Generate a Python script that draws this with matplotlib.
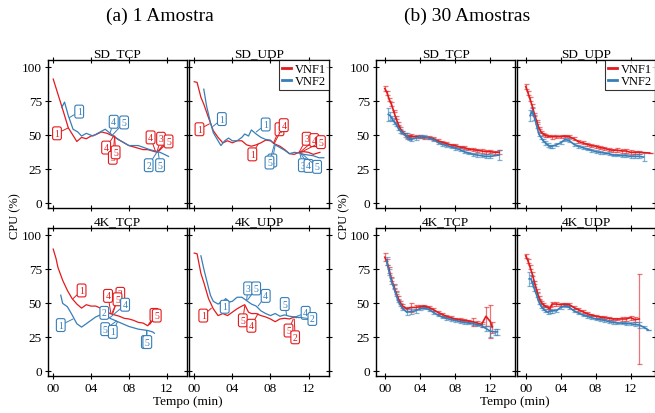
import matplotlib
matplotlib.use("Agg")
import matplotlib.pyplot as plt
from matplotlib.lines import Line2D

plt.rcParams["font.family"] = "serif"
plt.rcParams["font.serif"] = ["Liberation Serif", "DejaVu Serif"]

RED = "#e41a1c"
BLUE = "#377eb8"

panels = ["SD_TCP", "SD_UDP", "4K_TCP", "4K_UDP"]
series_names = ["VNF1", "VNF2"]
xticks = [0, 4, 8, 12]
xticklabels = ["00", "04", "08", "12"]
yticks = [0, 25, 50, 75, 100]

# ---- (a) 1 Amostra : single run, time (min) and CPU (%) ----
a_sd_tcp_t1 = [0, 0.9, 1.6, 2.5, 3, 3.5, 4, 4.5, 5.1, 5.7, 6.3, 7, 8, 9, 9.5, 10, 11, 11.7]
a_sd_tcp_y1 = [91, 71, 55, 45, 48, 47, 49, 50, 52, 51, 49, 46, 42, 40, 39, 39, 37, 43]
a_sd_tcp_t2 = [0.9, 1.2, 1.6, 2.1, 2.6, 3, 3.5, 4.2, 4.7, 5.5, 6.2, 7, 8, 9, 10.2, 11.3, 12.2]
a_sd_tcp_y2 = [70, 74, 64, 54, 52, 49, 51, 49, 51, 54, 50, 46, 42, 42, 39, 37, 34]

a_sd_udp_t1 = [0, 0.3, 0.7, 1, 1.5, 2, 2.5, 3, 3.5, 4, 4.5, 5, 5.5, 6, 6.5, 7, 7.5, 8,
               8.5, 9, 9.5, 10, 10.5, 11, 11.5, 12, 12.5, 13.2]
a_sd_udp_y1 = [89, 88.5, 77.5, 72.5, 62.5, 53, 48, 44, 45.5, 44, 45.5, 45.5, 42.5, 41.5, 42.5, 44,
               46, 45.5, 43, 41.5, 39, 36, 35.5, 37, 37.5, 37, 35.5, 37]
a_sd_udp_t2 = [1, 1.3, 1.7, 2, 2.5, 2.8, 3.2, 3.6, 4, 4.5, 5, 5.3, 5.7, 6, 6.5, 7, 7.5, 8,
               8.5, 9, 9.5, 10, 10.5, 11, 11.5, 12, 12.5, 13.1, 13.6]
a_sd_udp_y2 = [83.5, 71, 59, 51.5, 45.5, 42, 45.5, 47.5, 45.5, 45.5, 48, 50.5, 49, 53.5, 50.5, 48,
               46.5, 46, 42.5, 40.5, 38.5, 36, 37, 36.5, 35.5, 35, 34.5, 33, 33]

a_4k_tcp_t1 = [0, 0.3, 0.5, 1, 1.5, 2, 2.5, 3, 3.5, 4, 4.5, 5, 5.5, 6, 6.5, 7, 7.5, 8, 8.5,
               9, 9.5, 10, 10.3]
a_4k_tcp_y1 = [89.5, 82.5, 76, 66.5, 59, 53, 49, 46, 48.5, 47.5, 47.5, 46, 44, 42, 41, 40, 38.5,
               38, 37, 35.5, 35, 33, 35.5]
a_4k_tcp_t2 = [0.8, 1, 1.5, 2, 2.5, 3, 3.5, 4, 4.5, 5, 5.3, 5.7, 6, 6.5, 7, 7.5, 8, 8.5, 9,
               9.5, 10, 10.5, 10.7]
a_4k_tcp_y2 = [55.5, 49.5, 47, 41, 34.5, 32, 34.5, 37, 39.5, 41, 43.5, 40.5, 38.5, 37, 35.5, 34,
               32.5, 31.5, 30.5, 30, 29.5, 28.5, 27.5]

a_4k_udp_t1 = [0, 0.3, 0.7, 1, 1.5, 2, 2.5, 3, 3.5, 4, 4.5, 5, 5.3, 5.7, 6, 6.5, 7, 7.5, 8,
               8.5, 9, 9.5, 10, 10.5, 10.7]
a_4k_udp_y1 = [86.5, 86, 71.5, 65, 53, 45.5, 40.5, 42, 40.5, 43, 45.5, 47.5, 48.5, 43, 42, 42,
               40.5, 39.5, 38, 36, 38, 38.5, 38, 39.5, 39]
a_4k_udp_t2 = [0.7, 1, 1.3, 1.7, 2, 2.5, 3, 3.3, 3.7, 4, 4.5, 5, 5.5, 6, 6.5, 7, 7.5, 8, 8.5,
               9, 9.5, 10, 10.5, 11, 11.5, 12, 12.3]
a_4k_udp_y2 = [84.5, 75, 66.5, 55.5, 51, 49, 50.5, 53, 50.5, 51, 54, 54, 51.5, 49, 47.5, 44, 42,
               40.5, 42, 40, 41, 40, 39.5, 39, 39.5, 38, 38]

# labels: (text, x point, y point, x label, y label)
a_sd_tcp_n1 = [("1", 1.6, 55, 0.4, 51), ("4", 6.4, 49, 5.6, 40.5), ("3", 6.5, 49, 6.3, 33),
               ("5", 6.5, 49, 6.6, 37), ("4", 10.8, 38, 10.3, 48), ("3", 11.0, 38, 11.4, 47),
               ("5", 11.2, 38, 12.2, 45)]
a_sd_tcp_n2 = [("1", 1.7, 62.5, 2.75, 67), ("4", 6.0, 51, 6.4, 59.5), ("5", 6.3, 50, 7.5, 59),
               ("2", 11.0, 37.5, 10.1, 27.5), ("5", 11.1, 37.5, 11.3, 27.5)]
a_sd_udp_n1 = [("1", 1.6, 58, 0.55, 54), ("1", 6.7, 43, 6.1, 35.5), ("5", 8.3, 43.5, 8.95, 54),
               ("4", 8.4, 43.5, 9.4, 57), ("3", 11.0, 37, 11.8, 47), ("4", 11.1, 37, 12.6, 46),
               ("5", 11.2, 37, 13.3, 44.5)]
a_sd_udp_n2 = [("1", 1.95, 56, 2.9, 61.5), ("1", 6.5, 52, 7.5, 57.5), ("1", 8.5, 42.5, 8.2, 31),
               ("5", 8.4, 42.5, 7.9, 29.5), ("3", 11.1, 36, 11.4, 27.5), ("4", 11.2, 36, 12.0, 27),
               ("5", 11.3, 36, 12.9, 26.3)]
a_4k_tcp_n1 = [("1", 2.1, 53, 3.0, 59), ("2", 6.2, 42, 7.1, 56.5), ("4", 6.1, 42, 5.8, 55),
               ("5", 6.3, 42, 6.8, 52.5), ("2", 10.1, 34, 10.7, 41), ("5", 10.2, 34, 10.95, 40.5)]
a_4k_tcp_n2 = [("1", 2.1, 38, 0.8, 33.5), ("2", 5.6, 41.5, 5.4, 42.5), ("4", 6.0, 39, 7.6, 48.5),
               ("5", 6.7, 36.5, 5.5, 30.5), ("1", 6.8, 36, 6.3, 28.5), ("1", 9.9, 29.5, 9.8, 21),
               ("5", 9.9, 29.5, 9.95, 21)]
a_4k_udp_n1 = [("1", 1.8, 46, 0.95, 40.5), ("5", 5.3, 47.5, 5.1, 37), ("4", 6.7, 42, 6.0, 33),
               ("5", 10.4, 38, 9.9, 29.5), ("2", 10.5, 38, 10.6, 24.5)]
a_4k_udp_n2 = [("1", 2.65, 50, 3.2, 47), ("3", 5.5, 52, 5.65, 60.5), ("5", 5.6, 52, 6.5, 60.5),
               ("4", 6.7, 47.5, 7.5, 55), ("5", 9.7, 41, 9.5, 49), ("4", 10.6, 39.5, 11.7, 42.5),
               ("2", 10.7, 39.5, 12.4, 38)]

# ---- (b) 30 Amostras : mean and error ----
b_sd_tcp_t1 = [0, .25, .5, .75, 1, 1.25, 1.5, 1.75, 2, 2.25, 2.5, 2.75, 3, 3.5, 4, 4.5, 5, 5.5,
               6, 6.5, 7, 7.5, 8, 8.5, 9, 9.5, 10, 10.5, 11, 11.5, 12, 12.5, 13]
b_sd_tcp_y1 = [84, 81, 76, 72.5, 67.5, 62.5, 58, 54.5, 52, 50.5, 48.5, 48, 49, 48.5, 48.5, 48,
               48, 47, 45.5, 44.5, 43.5, 42.5, 42, 41, 40.5, 39.5, 39, 38.5, 38, 37.5, 37.5, 37, 37]
b_sd_tcp_e1 = [1.5, 1.5, 1.2, 1.2, 1, 1, 1, 1, 1, 1, 1.2, 1.5, 1.5, 1.2, 1, 1, 1, 1, 1, 1, 1,
               1, 1, 1, 1, 1, 1.2, 1.2, 1.5, 1.5, 1.2, 1.2, 1.5]
b_sd_tcp_t2 = [0.4, 0.6, 0.8, 1, 1.25, 1.5, 1.75, 2, 2.25, 2.5, 2.75, 3, 3.5, 4, 4.5, 5, 5.5,
               6, 6.5, 7, 7.5, 8, 8.5, 9, 9.5, 10, 10.5, 11, 11.5, 12, 13]
b_sd_tcp_y2 = [65, 64, 62, 60, 58, 55, 53, 51.5, 50, 49, 47.5, 46.5, 47.5, 48.5, 48.5, 47.5,
               46.5, 44.5, 43, 42, 41, 40, 39, 37.5, 36.5, 35.5, 35, 34.5, 34, 34, 35]
b_sd_tcp_e2 = [5, 3, 2, 2, 1.5, 1.5, 1.5, 1.2, 1.5, 2, 1.5, 1.5, 1.5, 1.2, 1, 1, 1, 1, 1, 1, 1,
               1, 1, 1, 1, 1.2, 1.2, 1.2, 1.5, 1.5, 4]

b_sd_udp_t1 = [0, .25, .5, .75, 1, 1.25, 1.5, 1.75, 2, 2.25, 2.5, 3, 3.5, 4, 4.5, 5, 5.5, 6,
               6.5, 7, 7.5, 8, 8.5, 9, 9.5, 10, 10.5, 11, 11.5, 12, 12.5, 13, 14.2]
b_sd_udp_y1 = [85.5, 81, 76, 71, 65, 60, 55, 52, 50.5, 49.5, 49, 48.5, 48.5, 48.5, 49, 48.5, 47,
               45, 44, 43, 42, 41.5, 40.5, 40, 39, 38.5, 38.5, 38, 38, 37, 37, 37, 36.5]
b_sd_udp_e1 = [2, 1.5, 1.5, 1.5, 1.2, 1, 1, 1, 1, 1, 1, 1.5, 1.2, 1, 1, 1, 1, 1, 1, 1, 1, 1, 1,
               1, 1.2, 1.2, 1.5, 1.5, 1.5, 1.5, 1.2, 1.2, 0]
b_sd_udp_t2 = [0.5, 0.75, 1, 1.25, 1.5, 1.75, 2, 2.25, 2.5, 2.75, 3, 3.5, 4, 4.5, 5, 5.5, 6,
               6.5, 7, 7.5, 8, 8.5, 9, 9.5, 10, 10.5, 11, 11.5, 12, 12.5, 13, 13.5]
b_sd_udp_y2 = [64, 67.5, 62.5, 56.5, 50.5, 48, 45.5, 44, 42.5, 41.5, 41.5, 42.5, 44, 46.5, 45.5,
               43, 41.5, 40.5, 39.5, 38.5, 37.5, 37, 36.5, 36, 35, 35, 34.5, 34.5, 34, 34, 34, 33.5]
b_sd_udp_e2 = [4, 3, 2, 1.5, 1.5, 1.2, 1.2, 1.5, 1.5, 1.2, 1.2, 1.2, 1.2, 1, 1, 1, 1, 1, 1, 1,
               1, 1, 1, 1, 1, 1, 1, 1, 1.2, 1.5, 1.5, 3]

b_4k_tcp_t1 = [0, .25, .5, .75, 1, 1.25, 1.5, 1.75, 2, 2.5, 3, 3.5, 4, 4.5, 5, 5.5, 6, 6.5, 7,
               7.5, 8, 8.5, 9, 9.5, 10, 10.5, 11, 11.5, 12, 12.2]
b_4k_tcp_y1 = [83.5, 80, 74, 67.5, 62.5, 57.5, 53.5, 50, 47.5, 45.5, 46.5, 46.5, 47, 47.5, 46.5,
               45, 43, 41.5, 40, 39, 38, 37.5, 37, 36.5, 36, 35, 34, 40, 36, 32]
b_4k_tcp_e1 = [3, 2, 2, 1.5, 1.5, 1.2, 1.2, 1.2, 1.2, 1.5, 3, 1.5, 1.2, 1, 1, 1, 1, 1, 1, 1, 1,
               1, 1, 1, 3, 1.5, 2, 7, 12, 4]
b_4k_tcp_t2 = [0.2, 0.5, 0.75, 1, 1.25, 1.5, 1.75, 2, 2.5, 3, 3.5, 4, 4.5, 5, 5.5, 6, 6.5, 7,
               7.5, 8, 8.5, 9, 9.5, 10, 10.5, 11, 11.5, 12, 12.5, 12.8]
b_4k_tcp_y2 = [81, 72.5, 66, 61.5, 56.5, 51.5, 48.5, 46, 43, 43.5, 44, 45.5, 46, 45, 43, 41,
               39.5, 38.5, 37.5, 37, 36, 35.5, 35, 34.5, 34, 33, 31, 29, 28.5, 28.5]
b_4k_tcp_e2 = [3, 2, 2, 1.5, 1.5, 1.2, 1.2, 1.2, 2, 1.5, 1.5, 1, 1, 1, 1, 1, 1, 1, 1, 1, 1, 1,
               1, 1, 1.2, 1.2, 1.5, 4, 2, 2]

b_4k_udp_t1 = [0, .25, .5, .75, 1, 1.25, 1.5, 1.75, 2, 2.25, 2.5, 2.75, 3, 3.5, 4, 4.5, 5, 5.5,
               6, 6.5, 7, 7.5, 8, 8.5, 9, 9.5, 10, 10.5, 11, 11.5, 12, 12.5, 13]
b_4k_udp_y1 = [84.5, 81, 76, 71, 65, 59, 54, 50.5, 48.5, 47.5, 46.5, 45.5, 49, 49, 48.5, 49,
               48.5, 46.5, 45, 43.5, 42, 41, 40, 39.5, 39, 38.5, 38, 38, 38, 38, 39, 37.5, 38]
b_4k_udp_e1 = [1.5, 1.5, 1.5, 1.5, 1.2, 1.2, 1, 1, 1, 1, 1, 1.2, 1.5, 1.2, 1, 1, 1, 1, 1, 1, 1,
               1, 1, 1, 1, 1, 1, 1, 1.2, 1.2, 1.5, 2, 33]
b_4k_udp_t2 = [0.4, 0.6, 0.8, 1, 1.25, 1.5, 1.75, 2, 2.25, 2.5, 2.75, 3, 3.5, 4, 4.5, 5, 5.5, 6,
               6.5, 7, 7.5, 8, 8.5, 9, 9.5, 10, 10.5, 11, 11.5, 12, 12.5, 13, 13.5, 14]
b_4k_udp_y2 = [67.5, 67.5, 64, 60, 55.5, 50.5, 47.5, 45.5, 44, 43, 43.5, 44, 44, 46.5, 47.5, 46.5,
               44, 42.5, 41, 40, 39, 38, 37.5, 37, 36, 35.5, 35, 35, 34.5, 34.5, 34, 33.5, 32, 30]
b_4k_udp_e2 = [5, 3, 2, 1.5, 1.5, 1.2, 1.2, 1.2, 1.2, 1.2, 1.2, 1.5, 1.2, 1, 1, 1, 1, 1, 1, 1,
               1, 1, 1, 1, 1, 1, 1, 1, 1, 1.2, 1.5, 2, 1, 0]

group_a = [
    (a_sd_tcp_t1, a_sd_tcp_y1, a_sd_tcp_t2, a_sd_tcp_y2, a_sd_tcp_n1, a_sd_tcp_n2),
    (a_sd_udp_t1, a_sd_udp_y1, a_sd_udp_t2, a_sd_udp_y2, a_sd_udp_n1, a_sd_udp_n2),
    (a_4k_tcp_t1, a_4k_tcp_y1, a_4k_tcp_t2, a_4k_tcp_y2, a_4k_tcp_n1, a_4k_tcp_n2),
    (a_4k_udp_t1, a_4k_udp_y1, a_4k_udp_t2, a_4k_udp_y2, a_4k_udp_n1, a_4k_udp_n2),
]
group_b = [
    (b_sd_tcp_t1, b_sd_tcp_y1, b_sd_tcp_e1, b_sd_tcp_t2, b_sd_tcp_y2, b_sd_tcp_e2),
    (b_sd_udp_t1, b_sd_udp_y1, b_sd_udp_e1, b_sd_udp_t2, b_sd_udp_y2, b_sd_udp_e2),
    (b_4k_tcp_t1, b_4k_tcp_y1, b_4k_tcp_e1, b_4k_tcp_t2, b_4k_tcp_y2, b_4k_tcp_e2),
    (b_4k_udp_t1, b_4k_udp_y1, b_4k_udp_e1, b_4k_udp_t2, b_4k_udp_y2, b_4k_udp_e2),
]

W, H = 655, 414
fig = plt.figure(figsize=(W / 100, H / 100), dpi=100)


def px_rect(x0, x1, y0, y1):
    return [x0 / W, 1 - y1 / H, (x1 - x0) / W, (y1 - y0) / H]


rows = [(61, 209), (229, 377)]
cols_a = [(48, 187), (189, 329)]
cols_b = [(376, 515), (517, 655)]


def style_axes(ax, i, xlim):
    r, c = divmod(i, 2)
    ax.set_xlim(*xlim)
    ax.set_ylim(-4, 105)
    ax.set_xticks(xticks)
    ax.set_yticks(yticks)
    ax.tick_params(direction="inout", length=5, width=0.8, top=True, right=True,
                   labelsize=9.5, pad=2)
    if r == 1:
        ax.set_xticklabels(xticklabels)
    else:
        ax.tick_params(labelbottom=False)
    if c == 1:
        ax.tick_params(labelleft=False)
    for s in ax.spines.values():
        s.set_linewidth(1.0)
    ax.set_title(panels[i], fontsize=9.5, pad=3)


def add_legend(ax):
    handles = [Line2D([], [], color=RED, lw=2), Line2D([], [], color=BLUE, lw=2)]
    leg = ax.legend(handles, series_names, loc="upper right", fontsize=9, handlelength=0.7,
                    handletextpad=0.3, labelspacing=0.0, borderaxespad=0.0, borderpad=0.25,
                    fancybox=False)
    leg.get_frame().set_edgecolor("black")
    leg.get_frame().set_linewidth(0.8)


def add_notes(ax, items, color):
    for lab, x, y, tx, ty in items:
        ax.annotate(lab, xy=(x, y), xytext=(tx, ty), color=color, fontsize=7,
                    ha="center", va="center", zorder=5,
                    bbox=dict(boxstyle="round,pad=0.2", fc="white", ec=color, lw=0.8),
                    arrowprops=dict(arrowstyle="-", color=color, lw=0.7,
                                    shrinkA=0, shrinkB=0))


for i, (t1, y1, t2, y2, n1, n2) in enumerate(group_a):
    r, c = divmod(i, 2)
    ax = fig.add_axes(px_rect(*cols_a[c], *rows[r]))
    ax.plot(t1, y1, color=RED, lw=0.9)
    ax.plot(t2, y2, color=BLUE, lw=0.9)
    add_notes(ax, n1, RED)
    add_notes(ax, n2, BLUE)
    style_axes(ax, i, (-0.55, 14.15))
    if i == 1:
        add_legend(ax)

for i, (t1, y1, e1, t2, y2, e2) in enumerate(group_b):
    r, c = divmod(i, 2)
    ax = fig.add_axes(px_rect(*cols_b[c], *rows[r]))
    for t, y, e, col in [(t1, y1, e1, RED), (t2, y2, e2, BLUE)]:
        eb = ax.errorbar(t, y, yerr=e, color=col, lw=1.2, elinewidth=0.9, capsize=1.8,
                         capthick=0.9)
        for a in list(eb[1]) + list(eb[2]):
            a.set_alpha(0.6)
    style_axes(ax, i, (-1.0, 14.8))
    if i == 1:
        add_legend(ax)

fig.text(160 / W, 1 - 16 / H, "(a) 1 Amostra", fontsize=14, ha="center", va="center")
fig.text(467 / W, 1 - 16 / H, "(b) 30 Amostras", fontsize=14, ha="center", va="center")
for x in (15, 344):
    fig.text(x / W, 1 - 216 / H, "CPU (%)", fontsize=9, rotation=90, ha="center", va="center")
for x in (188, 515):
    fig.text(x / W, 1 - 402 / H, "Tempo (min)", fontsize=9.5, ha="center", va="center")

fig.savefig("out.png", dpi=100)
